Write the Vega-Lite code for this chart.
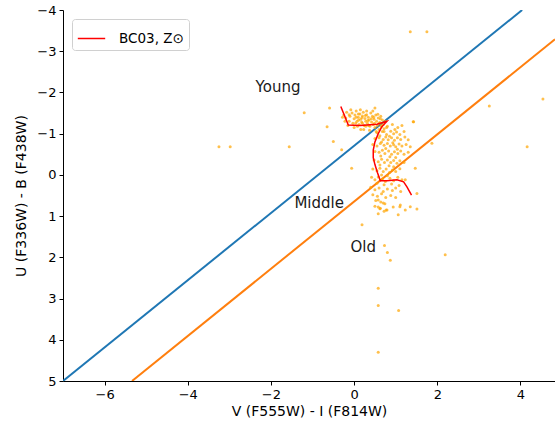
{
  "$schema": "https://vega.github.io/schema/vega-lite/v6.json",
  "width": 492,
  "height": 371,
  "autosize": {"type": "none"},
  "padding": {"left": 63, "top": 10, "right": 0, "bottom": 48},
  "config": {
    "view": {"stroke": null},
    "font": "DejaVu Sans",
    "axis": {
      "grid": false,
      "labelFont": "DejaVu Sans",
      "titleFont": "DejaVu Sans",
      "labelFontSize": 13,
      "titleFontSize": 14,
      "titleFontWeight": "normal",
      "labelColor": "#000",
      "titleColor": "#000",
      "domainColor": "#000",
      "tickColor": "#000",
      "tickSize": 4,
      "labelPadding": 3,
      "labelExpr": "replace(datum.label, '-', '−')"
    },
    "legend": {
      "labelFont": "DejaVu Sans",
      "labelFontSize": 13.5,
      "labelColor": "#000"
    }
  },
  "layer": [
    {
      "mark": {"type": "rule", "color": "#000", "strokeWidth": 1},
      "encoding": {"y": {"datum": -4, "type": "quantitative"}}
    },
    {
      "data": {"values": [{"x": -7, "y": 5}, {"x": 4.04, "y": -4}]},
      "mark": {"type": "line", "color": "#1f77b4", "strokeWidth": 2, "clip": true},
      "encoding": {
        "x": {"field": "x", "type": "quantitative", "scale": {"domain": [-7, 4.83], "nice": false, "zero": false}, "axis": {"values": [-6, -4, -2, 0, 2, 4], "title": "V (F555W) - I (F814W)", "titlePadding": 3}},
        "y": {"field": "y", "type": "quantitative", "scale": {"domain": [-4, 5], "reverse": true, "nice": false, "zero": false}, "axis": {"values": [-4, -3, -2, -1, 0, 1, 2, 3, 4, 5], "title": "U (F336W) - B (F438W)", "titlePadding": 8}}
      }
    },
    {
      "data": {"values": [{"x": -5.34, "y": 5}, {"x": 4.83, "y": -3.29}]},
      "mark": {"type": "line", "color": "#ff7f0e", "strokeWidth": 2, "clip": true},
      "encoding": {
        "x": {"field": "x", "type": "quantitative"},
        "y": {"field": "y", "type": "quantitative"}
      }
    },
    {
      "data": {"values": [
        {"x": -0.25, "y": -1.45}, {"x": -0.2, "y": -1.38}, {"x": -0.18, "y": -1.52}, {"x": -0.12, "y": -1.3}, {"x": -0.1, "y": -1.42},
        {"x": -0.05, "y": -1.5}, {"x": -0.03, "y": -1.25}, {"x": 0.0, "y": -1.36}, {"x": 0.02, "y": -1.45}, {"x": 0.05, "y": -1.55},
        {"x": 0.07, "y": -1.3}, {"x": 0.1, "y": -1.4}, {"x": 0.12, "y": -1.22}, {"x": 0.14, "y": -1.48}, {"x": 0.16, "y": -1.35},
        {"x": 0.18, "y": -1.28}, {"x": 0.2, "y": -1.43}, {"x": 0.22, "y": -1.52}, {"x": 0.24, "y": -1.2}, {"x": 0.26, "y": -1.37},
        {"x": 0.28, "y": -1.3}, {"x": 0.3, "y": -1.46}, {"x": 0.32, "y": -1.25}, {"x": 0.34, "y": -1.4}, {"x": 0.36, "y": -1.33},
        {"x": 0.38, "y": -1.18}, {"x": 0.4, "y": -1.5}, {"x": 0.42, "y": -1.28}, {"x": 0.44, "y": -1.42}, {"x": 0.46, "y": -1.22},
        {"x": 0.48, "y": -1.35}, {"x": 0.5, "y": -1.15}, {"x": 0.52, "y": -1.45}, {"x": 0.54, "y": -1.3}, {"x": 0.56, "y": -1.2},
        {"x": 0.58, "y": -1.38}, {"x": 0.6, "y": -1.1}, {"x": 0.62, "y": -1.27}, {"x": 0.64, "y": -1.42}, {"x": 0.66, "y": -1.17},
        {"x": 0.68, "y": -1.33}, {"x": 0.7, "y": -1.22}, {"x": 0.72, "y": -1.05}, {"x": 0.75, "y": -1.3}, {"x": 0.78, "y": -1.15},
        {"x": -0.15, "y": -1.2}, {"x": -0.08, "y": -1.58}, {"x": 0.08, "y": -1.18}, {"x": 0.15, "y": -1.58}, {"x": 0.3, "y": -1.55},
        {"x": 0.45, "y": -1.55}, {"x": 0.04, "y": -1.26}, {"x": 0.11, "y": -1.33}, {"x": 0.19, "y": -1.39}, {"x": 0.27, "y": -1.44},
        {"x": 0.35, "y": -1.2}, {"x": 0.41, "y": -1.36}, {"x": 0.49, "y": -1.25}, {"x": 0.57, "y": -1.47}, {"x": 0.63, "y": -1.36},
        {"x": -0.22, "y": -1.3}, {"x": -0.28, "y": -1.4}, {"x": 0.0, "y": -1.15}, {"x": 0.23, "y": -1.1}, {"x": 0.37, "y": -1.08},
        {"x": 0.53, "y": -1.05}, {"x": 0.1, "y": -1.48}, {"x": 0.33, "y": -1.32}, {"x": 0.47, "y": -1.4}, {"x": 0.6, "y": -1.25},
        {"x": 0.2, "y": -1.25}, {"x": 0.05, "y": -1.4}, {"x": -0.12, "y": -1.46}, {"x": 0.16, "y": -1.1}, {"x": 0.28, "y": -1.18},
        {"x": 0.65, "y": -1.2}, {"x": 0.8, "y": -1.18}, {"x": 0.92, "y": -1.22}, {"x": 1.05, "y": -1.15}, {"x": 0.72, "y": -1.12},
        {"x": 0.98, "y": -1.1}, {"x": 1.15, "y": -1.2}, {"x": 0.55, "y": -1.02}, {"x": 0.68, "y": -1.05}, {"x": 0.78, "y": -0.98},
        {"x": 0.88, "y": -1.06}, {"x": 0.95, "y": -1.0}, {"x": 1.02, "y": -1.04}, {"x": 1.1, "y": -0.98}, {"x": 1.2, "y": -1.05},
        {"x": 0.62, "y": -0.95}, {"x": 0.85, "y": -0.94}, {"x": 0.5, "y": -0.88}, {"x": 0.6, "y": -0.9}, {"x": 0.7, "y": -0.86},
        {"x": 0.76, "y": -0.92}, {"x": 0.82, "y": -0.85}, {"x": 0.9, "y": -0.9}, {"x": 0.97, "y": -0.84}, {"x": 1.04, "y": -0.9},
        {"x": 1.12, "y": -0.86}, {"x": 1.22, "y": -0.92}, {"x": 1.3, "y": -0.85}, {"x": 0.66, "y": -0.8}, {"x": 0.93, "y": -0.78},
        {"x": 0.45, "y": -0.74}, {"x": 0.55, "y": -0.7}, {"x": 0.63, "y": -0.76}, {"x": 0.72, "y": -0.72}, {"x": 0.8, "y": -0.76},
        {"x": 0.87, "y": -0.7}, {"x": 0.95, "y": -0.73}, {"x": 1.0, "y": -0.68}, {"x": 1.08, "y": -0.75}, {"x": 1.15, "y": -0.7},
        {"x": 1.25, "y": -0.74}, {"x": 1.35, "y": -0.68}, {"x": 0.76, "y": -0.64}, {"x": 1.04, "y": -0.62}, {"x": 0.5, "y": -0.57},
        {"x": 0.6, "y": -0.55}, {"x": 0.68, "y": -0.6}, {"x": 0.74, "y": -0.52}, {"x": 0.83, "y": -0.58}, {"x": 0.9, "y": -0.5},
        {"x": 0.97, "y": -0.56}, {"x": 1.05, "y": -0.52}, {"x": 1.12, "y": -0.58}, {"x": 1.2, "y": -0.5}, {"x": 1.3, "y": -0.55},
        {"x": 0.64, "y": -0.46}, {"x": 0.86, "y": -0.44}, {"x": 1.0, "y": -0.42}, {"x": 0.48, "y": -0.36}, {"x": 0.58, "y": -0.32},
        {"x": 0.66, "y": -0.38}, {"x": 0.73, "y": -0.3}, {"x": 0.8, "y": -0.36}, {"x": 0.88, "y": -0.3}, {"x": 0.95, "y": -0.35},
        {"x": 1.03, "y": -0.28}, {"x": 1.1, "y": -0.34}, {"x": 1.2, "y": -0.3}, {"x": 0.62, "y": -0.24}, {"x": 0.84, "y": -0.22},
        {"x": 0.95, "y": -0.2}, {"x": 0.45, "y": -0.14}, {"x": 0.55, "y": -0.1}, {"x": 0.62, "y": -0.16}, {"x": 0.7, "y": -0.08},
        {"x": 0.77, "y": -0.14}, {"x": 0.85, "y": -0.06}, {"x": 0.92, "y": -0.12}, {"x": 1.0, "y": -0.08}, {"x": 1.1, "y": -0.15},
        {"x": 0.66, "y": 0.0}, {"x": 0.8, "y": 0.02}, {"x": 0.42, "y": 0.06}, {"x": 0.5, "y": 0.12}, {"x": 0.58, "y": 0.05},
        {"x": 0.68, "y": 0.1}, {"x": 0.75, "y": 0.16}, {"x": 0.86, "y": 0.08}, {"x": 0.95, "y": 0.14}, {"x": 1.05, "y": 0.06},
        {"x": 1.15, "y": 0.12}, {"x": 0.55, "y": 0.2}, {"x": 0.72, "y": 0.24}, {"x": 0.9, "y": 0.22}, {"x": 1.08, "y": 0.26},
        {"x": 0.4, "y": 0.3}, {"x": 0.5, "y": 0.36}, {"x": 0.6, "y": 0.32}, {"x": 0.7, "y": 0.4}, {"x": 0.8, "y": 0.34},
        {"x": 0.92, "y": 0.38}, {"x": 1.0, "y": 0.32}, {"x": 1.12, "y": 0.4}, {"x": 0.45, "y": 0.48}, {"x": 0.56, "y": 0.52},
        {"x": 0.66, "y": 0.46}, {"x": 0.76, "y": 0.55}, {"x": 0.88, "y": 0.5}, {"x": 0.52, "y": 0.62}, {"x": 0.64, "y": 0.66},
        {"x": 0.74, "y": 0.7}, {"x": 0.5, "y": 0.76}, {"x": 0.62, "y": 0.82}, {"x": 0.72, "y": 0.88}, {"x": 0.58, "y": 0.94},
        {"x": 1.0, "y": 0.55}, {"x": 0.58, "y": 0.61}, {"x": 0.7, "y": 0.68}, {"x": 0.58, "y": 0.78}, {"x": 0.77, "y": 0.85},
        {"x": 0.94, "y": 0.78}, {"x": 1.11, "y": 0.73}, {"x": 1.23, "y": 0.85}, {"x": 1.06, "y": 0.97}, {"x": 1.51, "y": 0.83},
        {"x": -0.5, "y": -0.81}, {"x": -0.3, "y": -0.61}, {"x": -0.06, "y": -0.16}, {"x": 1.87, "y": -0.77}, {"x": 1.47, "y": -0.16},
        {"x": 1.23, "y": 0.12}, {"x": 1.51, "y": 0.45}, {"x": 1.35, "y": 0.77}, {"x": 1.1, "y": 0.77}, {"x": 0.79, "y": 0.85},
        {"x": 0.63, "y": 0.81}, {"x": 0.19, "y": 1.21}, {"x": -1.2, "y": -1.51}, {"x": -0.59, "y": -1.62}, {"x": 0.5, "y": -1.62},
        {"x": 1.43, "y": -1.29}, {"x": 0.73, "y": 1.71}, {"x": 0.8, "y": 1.88}, {"x": 0.87, "y": 2.07}, {"x": 0.58, "y": 2.75},
        {"x": 0.58, "y": 3.17}, {"x": 1.07, "y": 3.29}, {"x": 0.58, "y": 4.3}, {"x": 2.19, "y": 1.94}, {"x": -3.25, "y": -0.68},
        {"x": -2.98, "y": -0.68}, {"x": -1.56, "y": -0.68}, {"x": -0.65, "y": -1.17}, {"x": 1.35, "y": -3.47}, {"x": 1.75, "y": -3.47},
        {"x": 3.25, "y": -1.67}, {"x": 4.54, "y": -1.84}, {"x": 4.16, "y": -0.68}, {"x": 1.42, "y": -1.29}
      ]},
      "mark": {"type": "point", "shape": "circle", "filled": true, "size": 9, "color": "#ffa500", "opacity": 0.7},
      "encoding": {
        "x": {"field": "x", "type": "quantitative"},
        "y": {"field": "y", "type": "quantitative"}
      }
    },
    {
      "data": {"values": [
        {"i": 0, "x": -0.32, "y": -1.66, "model": "BC03, Z⊙"},
        {"i": 1, "x": -0.14, "y": -1.21, "model": "BC03, Z⊙"},
        {"i": 2, "x": 0.14, "y": -1.2, "model": "BC03, Z⊙"},
        {"i": 3, "x": 0.55, "y": -1.23, "model": "BC03, Z⊙"},
        {"i": 4, "x": 0.79, "y": -1.3, "model": "BC03, Z⊙"},
        {"i": 5, "x": 0.66, "y": -1.16, "model": "BC03, Z⊙"},
        {"i": 6, "x": 0.58, "y": -1.0, "model": "BC03, Z⊙"},
        {"i": 7, "x": 0.5, "y": -0.8, "model": "BC03, Z⊙"},
        {"i": 8, "x": 0.46, "y": -0.6, "model": "BC03, Z⊙"},
        {"i": 9, "x": 0.46, "y": -0.42, "model": "BC03, Z⊙"},
        {"i": 10, "x": 0.5, "y": -0.25, "model": "BC03, Z⊙"},
        {"i": 11, "x": 0.56, "y": -0.06, "model": "BC03, Z⊙"},
        {"i": 12, "x": 0.63, "y": 0.14, "model": "BC03, Z⊙"},
        {"i": 13, "x": 0.79, "y": 0.14, "model": "BC03, Z⊙"},
        {"i": 14, "x": 1.03, "y": 0.12, "model": "BC03, Z⊙"},
        {"i": 15, "x": 1.19, "y": 0.17, "model": "BC03, Z⊙"},
        {"i": 16, "x": 1.27, "y": 0.29, "model": "BC03, Z⊙"},
        {"i": 17, "x": 1.38, "y": 0.49, "model": "BC03, Z⊙"}
      ]},
      "mark": {"type": "line", "strokeWidth": 1.5},
      "encoding": {
        "x": {"field": "x", "type": "quantitative"},
        "y": {"field": "y", "type": "quantitative"},
        "order": {"field": "i", "type": "quantitative"},
        "color": {
          "field": "model", "type": "nominal",
          "scale": {"domain": ["BC03, Z⊙"], "range": ["red"]},
          "legend": {
            "title": null, "orient": "top-left", "offset": 9,
            "symbolType": "stroke", "symbolSize": 750, "symbolStrokeWidth": 1.5,
            "strokeColor": "#d0d0d0", "fillColor": "white", "cornerRadius": 3,
            "padding": 5, "labelOffset": 13
          }
        }
      }
    },
    {
      "data": {"values": [
        {"x": -1.83, "y": -2.14, "label": "Young"},
        {"x": -0.84, "y": 0.68, "label": "Middle"},
        {"x": 0.22, "y": 1.75, "label": "Old"}
      ]},
      "mark": {"type": "text", "font": "DejaVu Sans", "fontSize": 15, "color": "#1a1a1a", "align": "center", "baseline": "middle"},
      "encoding": {
        "x": {"field": "x", "type": "quantitative"},
        "y": {"field": "y", "type": "quantitative"},
        "text": {"field": "label"}
      }
    }
  ]
}
